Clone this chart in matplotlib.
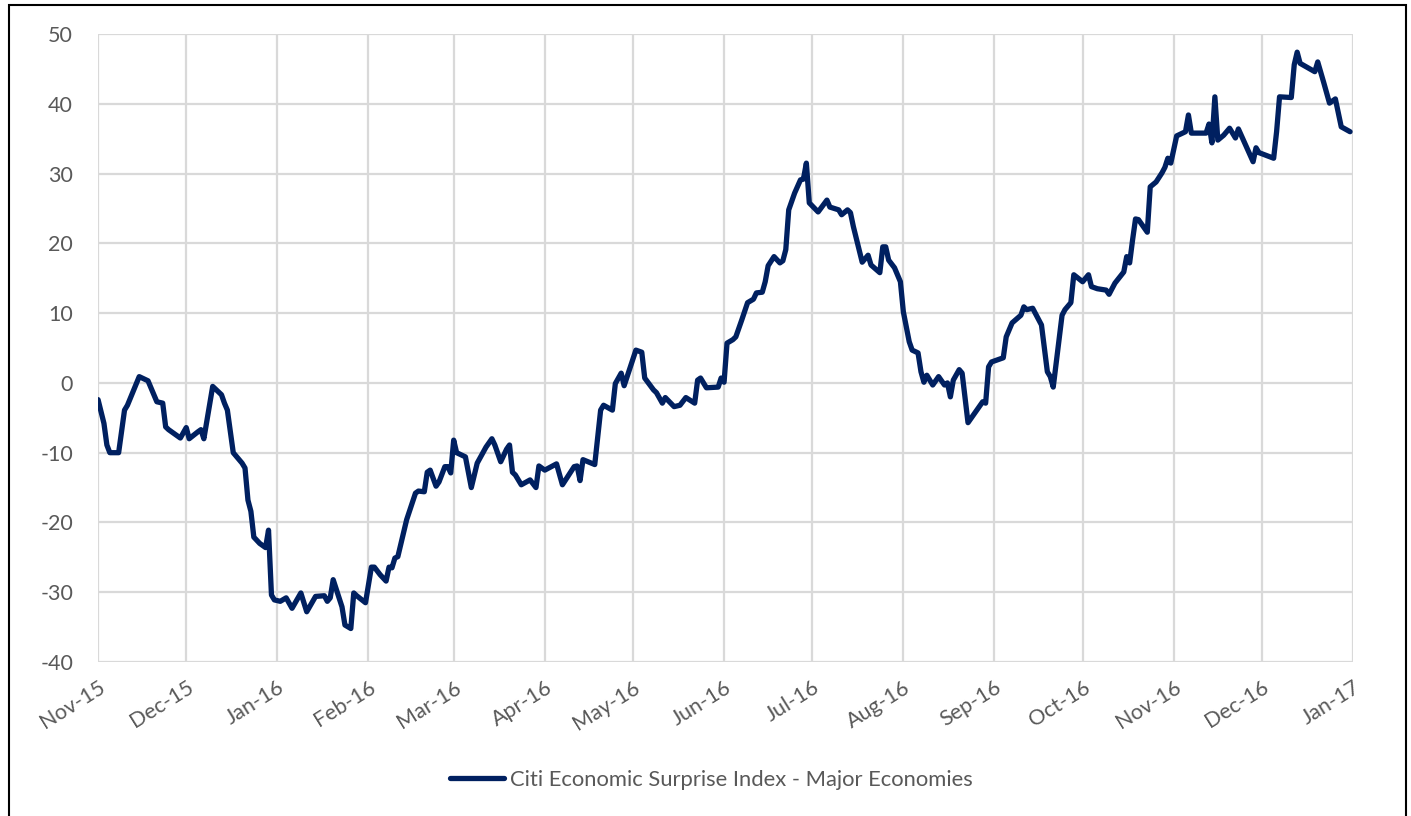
import matplotlib
matplotlib.use("Agg")
import matplotlib.pyplot as plt
import matplotlib.dates as mdates
from matplotlib.patches import Rectangle
import pandas as pd

# Citi Economic Surprise Index - Major Economies
dates = [
    "2015-11-01", "2015-11-03", "2015-11-04", "2015-11-05", "2015-11-08", "2015-11-10",
    "2015-11-11", "2015-11-15", "2015-11-18", "2015-11-21", "2015-11-23", "2015-11-24",
    "2015-11-25", "2015-11-29", "2015-12-01", "2015-12-02", "2015-12-05", "2015-12-06",
    "2015-12-07", "2015-12-10", "2015-12-13", "2015-12-14", "2015-12-15", "2015-12-17",
    "2015-12-20", "2015-12-21", "2015-12-22", "2015-12-23", "2015-12-24", "2015-12-26",
    "2015-12-28", "2015-12-29", "2015-12-30", "2015-12-31",
    "2016-01-02", "2016-01-04", "2016-01-06", "2016-01-09", "2016-01-11", "2016-01-14",
    "2016-01-17", "2016-01-18", "2016-01-19", "2016-01-20", "2016-01-23", "2016-01-24",
    "2016-01-26", "2016-01-27", "2016-01-28", "2016-01-31",
    "2016-02-02", "2016-02-03", "2016-02-05", "2016-02-07", "2016-02-08", "2016-02-09",
    "2016-02-10", "2016-02-11", "2016-02-14", "2016-02-17", "2016-02-18", "2016-02-20",
    "2016-02-21", "2016-02-22", "2016-02-24", "2016-02-25", "2016-02-27", "2016-02-28",
    "2016-02-29", "2016-03-01", "2016-03-02", "2016-03-05", "2016-03-07", "2016-03-09",
    "2016-03-12", "2016-03-14", "2016-03-15", "2016-03-17", "2016-03-19", "2016-03-20",
    "2016-03-21", "2016-03-22", "2016-03-24", "2016-03-27", "2016-03-29", "2016-03-30",
    "2016-04-01", "2016-04-05", "2016-04-07", "2016-04-11", "2016-04-12", "2016-04-13",
    "2016-04-14", "2016-04-18", "2016-04-20", "2016-04-21", "2016-04-24", "2016-04-25",
    "2016-04-27", "2016-04-28", "2016-05-02", "2016-05-04", "2016-05-05", "2016-05-08",
    "2016-05-09", "2016-05-11", "2016-05-12", "2016-05-15", "2016-05-17", "2016-05-19",
    "2016-05-22", "2016-05-23", "2016-05-24", "2016-05-26", "2016-05-30", "2016-05-31",
    "2016-06-01", "2016-06-02", "2016-06-04", "2016-06-05", "2016-06-07", "2016-06-09",
    "2016-06-11", "2016-06-12", "2016-06-14", "2016-06-15", "2016-06-16", "2016-06-18",
    "2016-06-20", "2016-06-21", "2016-06-22", "2016-06-23", "2016-06-25", "2016-06-27",
    "2016-06-28", "2016-06-29", "2016-06-30", "2016-07-03", "2016-07-06", "2016-07-07",
    "2016-07-10", "2016-07-11", "2016-07-13", "2016-07-14", "2016-07-15", "2016-07-18",
    "2016-07-20", "2016-07-21", "2016-07-24", "2016-07-25", "2016-07-26", "2016-07-27",
    "2016-07-29", "2016-07-31", "2016-08-01", "2016-08-03", "2016-08-04", "2016-08-06",
    "2016-08-07", "2016-08-08", "2016-08-09", "2016-08-11", "2016-08-13", "2016-08-15",
    "2016-08-16", "2016-08-17", "2016-08-18", "2016-08-20", "2016-08-21", "2016-08-23",
    "2016-08-28", "2016-08-29", "2016-08-30", "2016-08-31", "2016-09-04", "2016-09-05",
    "2016-09-07", "2016-09-10", "2016-09-11", "2016-09-12", "2016-09-14", "2016-09-17",
    "2016-09-19", "2016-09-20", "2016-09-21", "2016-09-24", "2016-09-25", "2016-09-27",
    "2016-09-28", "2016-10-01", "2016-10-03", "2016-10-04", "2016-10-06", "2016-10-09",
    "2016-10-10", "2016-10-12", "2016-10-15", "2016-10-16", "2016-10-17", "2016-10-18",
    "2016-10-19", "2016-10-20", "2016-10-23", "2016-10-24", "2016-10-26", "2016-10-28",
    "2016-10-29", "2016-10-30", "2016-10-31", "2016-11-02", "2016-11-05", "2016-11-06",
    "2016-11-07", "2016-11-12", "2016-11-13", "2016-11-14", "2016-11-15", "2016-11-16",
    "2016-11-18", "2016-11-20", "2016-11-22", "2016-11-23", "2016-11-28", "2016-11-29",
    "2016-11-30", "2016-12-05", "2016-12-06", "2016-12-07", "2016-12-11", "2016-12-12",
    "2016-12-13", "2016-12-14", "2016-12-19", "2016-12-20", "2016-12-22", "2016-12-24",
    "2016-12-26", "2016-12-28", "2016-12-31",
]
cesi = [
    -2.4, -5.8, -8.9, -10.0, -10.0, -3.9,
    -3.2, 0.9, 0.3, -2.7, -2.9, -6.3,
    -6.7, -7.9, -6.4, -8.0, -7.0, -6.7,
    -8.0, -0.5, -1.7, -2.9, -3.9, -10.0,
    -11.5, -12.2, -16.8, -18.4, -22.1, -23.0,
    -23.6, -21.1, -30.4, -31.1,
    -31.3, -30.8, -32.3, -30.1, -32.8, -30.6,
    -30.5, -31.3, -30.8, -28.2, -32.1, -34.7,
    -35.2, -30.1, -30.5, -31.5,
    -26.4, -26.4, -27.5, -28.4, -26.4, -26.5,
    -25.1, -24.9, -19.6, -15.8, -15.5, -15.6,
    -12.8, -12.5, -14.8, -14.2, -12.0, -12.0,
    -12.9, -8.2, -10.0, -10.6, -15.0, -11.5,
    -9.2, -8.0, -8.9, -11.3, -9.5, -8.9,
    -12.8, -13.2, -14.6, -13.9, -15.0, -11.9,
    -12.5, -11.6, -14.6, -12.0, -11.9, -14.0,
    -11.0, -11.7, -3.9, -3.2, -3.9, -0.1,
    1.4, -0.4, 4.7, 4.4, 0.7, -1.0,
    -1.4, -2.9, -2.1, -3.4, -3.2, -2.1,
    -2.9, 0.4, 0.7, -0.7, -0.6, 0.7,
    0.1, 5.7, 6.2, 6.6, 9.0, 11.5,
    12.0, 12.9, 13.0, 14.5, 16.8, 18.1,
    17.2, 17.5, 19.1, 24.8, 27.2, 29.1,
    29.2, 31.5, 25.8, 24.5, 26.2, 25.2,
    24.8, 24.1, 24.8, 24.4, 22.4, 17.3,
    18.3, 16.9, 15.8, 19.5, 19.5, 17.6,
    16.5, 14.5, 10.2, 5.9, 4.7, 4.3,
    1.6, 0.1, 1.1, -0.3, 0.9, -0.3,
    0.0, -2.0, 0.4, 1.9, 1.4, -5.7,
    -2.7, -2.9, 2.3, 3.0, 3.6, 6.6,
    8.6, 9.7, 10.9, 10.5, 10.7, 8.3,
    1.6, 0.9, -0.6, 9.7, 10.5, 11.5,
    15.5, 14.5, 15.5, 13.8, 13.5, 13.3,
    12.7, 14.3, 15.9, 18.1, 17.2, 20.5,
    23.5, 23.4, 21.6, 28.1, 28.8, 30.1,
    30.9, 32.2, 31.5, 35.4, 36.0, 38.4,
    35.8, 35.8, 37.1, 34.4, 41.0, 34.8,
    35.5, 36.5, 35.1, 36.4, 31.7, 33.7,
    33.0, 32.2, 36.0, 41.0, 40.9, 45.6,
    47.4, 45.8, 44.6, 46.0, 43.1, 40.1,
    40.7, 36.7, 36.0,
]
series_name = "Citi Economic Surprise Index - Major Economies"
y_ticks = list(range(-40, 51, 10))

navy = "#002060"
grid_grey = "#d9d9d9"
text_grey = "#595959"

plt.rcParams["font.family"] = ["Lato", "DejaVu Sans"]
plt.rcParams["axes.unicode_minus"] = False

fig = plt.figure(figsize=(14.11, 8.16), dpi=100)
ax = fig.add_axes([0.0695, 0.1887, 0.8894, 0.7696])

x = pd.to_datetime(dates)
ax.plot(x, cesi, color=navy, lw=3.8, solid_joinstyle="round", solid_capstyle="round",
        label=series_name, zorder=3)

ax.set_xlim(pd.Timestamp("2015-11-01"), pd.Timestamp("2017-01-01"))
ax.set_ylim(-40, 50)
ax.set_yticks(y_ticks)
ax.xaxis.set_major_locator(mdates.MonthLocator())
ax.xaxis.set_major_formatter(mdates.DateFormatter("%b-%y"))

ax.grid(True, color=grid_grey, lw=1.6)
ax.set_axisbelow(True)
for s in ax.spines.values():
    s.set_visible(False)
ax.tick_params(length=0, colors=text_grey, labelsize=15.5)
ax.tick_params(axis="y", pad=18)
ax.tick_params(axis="x", pad=11)
for lab in ax.get_xticklabels():
    lab.set_rotation(32)
    lab.set_ha("right")
    lab.set_rotation_mode("anchor")

leg = fig.legend(loc="center", bbox_to_anchor=(0.504, 0.044), frameon=False,
                 fontsize=15.8, handlelength=2.5, handletextpad=0.25)
for t in leg.get_texts():
    t.set_color(text_grey)

# outer frame of the chart box
fig.patches.append(Rectangle((9 / 1411, -0.02), (1406 - 9) / 1411, 1.02 - 5 / 816,
                             transform=fig.transFigure, fill=False, ec="black", lw=1.5))

fig.savefig("out.png", dpi=100)
